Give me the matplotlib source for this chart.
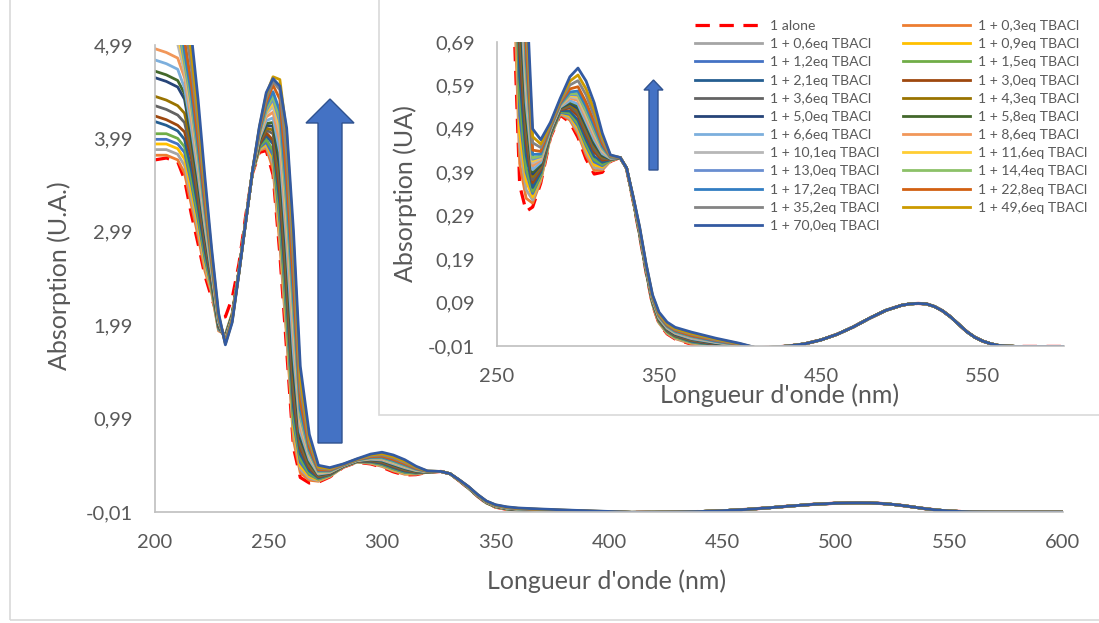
import matplotlib
matplotlib.use("Agg")
import matplotlib.pyplot as plt
from matplotlib.patches import Rectangle, Polygon

plt.rcParams['font.family'] = ['Lato', 'DejaVu Sans']

# ---- data ----------------------------------------------------------------
# wavelengths (nm) where the spectra differ from one another
wl_head = [200, 205, 210, 213, 216, 219, 222, 225, 228, 231,
           234, 237, 240, 243, 246, 249, 252, 255, 258, 261,
           264, 268, 272, 277, 283, 289, 295, 300, 305, 310,
           315, 320, 326, 330, 334, 338, 342, 346, 350, 355,
           360, 370, 385, 400]
# long-wavelength part, common to all spectra
wl_tail = [410, 420, 430, 440, 450, 460, 470, 480, 490, 500, 505, 510,
           515, 520, 525, 530, 535, 540, 545, 550, 555, 560, 570, 580, 590, 600]
abs_tail = [-0.014, -0.013, -0.010, -0.005, 0.004, 0.017, 0.034, 0.054,
            0.072, 0.084, 0.087, 0.088, 0.087, 0.081, 0.071, 0.057, 0.040,
            0.023, 0.010, 0.001, -0.005, -0.009, -0.011, -0.011, -0.011, -0.011]

a_alone = [3.76, 3.78, 3.74, 3.55, 3.18, 2.86, 2.52, 2.28, 2.06, 2.08,
           2.28, 2.65, 3.17, 3.62, 3.84, 3.86, 3.60, 2.75, 1.72, 0.68,
           0.36, 0.30, 0.31, 0.365, 0.47, 0.522, 0.505, 0.47, 0.42, 0.386,
           0.39, 0.415, 0.424, 0.398, 0.325, 0.245, 0.160, 0.085, 0.042, 0.018,
           0.006, -0.006, -0.012, -0.014]
a_0_3 = [3.81, 3.81, 3.76, 3.62, 3.28, 2.94, 2.57, 2.33, 1.93, 1.89,
         2.12, 2.58, 3.12, 3.63, 3.86, 3.89, 3.66, 2.85, 1.86, 0.76,
         0.41, 0.33, 0.319, 0.370, 0.472, 0.524, 0.510, 0.478, 0.429, 0.394,
         0.395, 0.416, 0.424, 0.399, 0.326, 0.246, 0.161, 0.086, 0.043, 0.019,
         0.007, -0.005, -0.011, -0.014]
a_0_6 = [3.87, 3.87, 3.82, 3.70, 3.35, 3.00, 2.62, 2.35, 1.94, 1.89,
         2.11, 2.58, 3.12, 3.63, 3.87, 3.91, 3.72, 2.93, 1.91, 0.83,
         0.45, 0.35, 0.326, 0.374, 0.473, 0.525, 0.514, 0.484, 0.436, 0.401,
         0.398, 0.416, 0.424, 0.399, 0.326, 0.247, 0.162, 0.087, 0.044, 0.020,
         0.008, -0.003, -0.010, -0.013]
a_0_9 = [3.93, 3.93, 3.88, 3.77, 3.43, 3.06, 2.66, 2.37, 1.95, 1.88,
         2.11, 2.58, 3.12, 3.63, 3.88, 3.93, 3.77, 3.01, 1.99, 0.88,
         0.48, 0.37, 0.333, 0.378, 0.475, 0.527, 0.519, 0.491, 0.443, 0.407,
         0.402, 0.417, 0.424, 0.399, 0.326, 0.248, 0.163, 0.088, 0.045, 0.022,
         0.010, -0.002, -0.009, -0.013]
a_1_2 = [3.98, 3.98, 3.93, 3.84, 3.51, 3.12, 2.70, 2.39, 1.95, 1.88,
         2.10, 2.57, 3.12, 3.64, 3.89, 3.95, 3.81, 3.09, 2.07, 0.95,
         0.52, 0.39, 0.341, 0.382, 0.476, 0.528, 0.523, 0.497, 0.451, 0.414,
         0.405, 0.418, 0.424, 0.399, 0.327, 0.248, 0.163, 0.089, 0.046, 0.023,
         0.011, -0.001, -0.009, -0.012]
a_1_5 = [4.04, 4.04, 3.99, 3.90, 3.56, 3.17, 2.74, 2.40, 1.96, 1.88,
         2.10, 2.57, 3.12, 3.64, 3.90, 3.98, 3.86, 3.17, 2.15, 1.01,
         0.56, 0.40, 0.346, 0.385, 0.477, 0.530, 0.526, 0.502, 0.456, 0.419,
         0.408, 0.418, 0.424, 0.399, 0.327, 0.249, 0.164, 0.090, 0.047, 0.023,
         0.011, 0.000, -0.008, -0.012]
a_2_1 = [4.17, 4.13, 4.07, 3.98, 3.66, 3.25, 2.79, 2.43, 1.97, 1.87,
         2.10, 2.57, 3.12, 3.64, 3.92, 4.02, 3.93, 3.29, 2.28, 1.11,
         0.61, 0.43, 0.355, 0.390, 0.479, 0.532, 0.531, 0.510, 0.465, 0.427,
         0.413, 0.419, 0.424, 0.399, 0.328, 0.250, 0.165, 0.091, 0.049, 0.025,
         0.013, 0.001, -0.007, -0.012]
a_3_0 = [4.23, 4.19, 4.13, 4.06, 3.78, 3.34, 2.86, 2.46, 1.98, 1.86,
         2.09, 2.57, 3.11, 3.64, 3.93, 4.05, 3.97, 3.41, 2.40, 1.21,
         0.67, 0.46, 0.366, 0.396, 0.481, 0.534, 0.538, 0.520, 0.476, 0.437,
         0.418, 0.420, 0.424, 0.399, 0.328, 0.251, 0.166, 0.092, 0.050, 0.026,
         0.014, 0.003, -0.006, -0.011]
a_3_6 = [4.34, 4.30, 4.24, 4.16, 3.85, 3.40, 2.90, 2.48, 1.99, 1.86,
         2.09, 2.57, 3.11, 3.64, 3.95, 4.08, 4.04, 3.52, 2.51, 1.30,
         0.71, 0.48, 0.373, 0.400, 0.482, 0.535, 0.542, 0.526, 0.483, 0.443,
         0.422, 0.420, 0.424, 0.399, 0.329, 0.252, 0.167, 0.093, 0.051, 0.027,
         0.015, 0.004, -0.005, -0.011]
a_4_3 = [4.44, 4.40, 4.34, 4.26, 3.93, 3.46, 2.94, 2.50, 2.00, 1.85,
         2.08, 2.57, 3.11, 3.64, 3.96, 4.10, 4.08, 3.61, 2.61, 1.41,
         0.75, 0.50, 0.380, 0.404, 0.484, 0.537, 0.546, 0.532, 0.490, 0.450,
         0.425, 0.421, 0.424, 0.399, 0.329, 0.253, 0.168, 0.094, 0.052, 0.029,
         0.017, 0.005, -0.004, -0.010]
a_5_0 = [4.64, 4.60, 4.54, 4.41, 3.99, 3.51, 2.97, 2.51, 2.00, 1.85,
         2.08, 2.57, 3.11, 3.64, 3.97, 4.13, 4.12, 3.68, 2.70, 1.50,
         0.78, 0.52, 0.386, 0.407, 0.485, 0.538, 0.549, 0.537, 0.496, 0.455,
         0.428, 0.421, 0.424, 0.399, 0.329, 0.253, 0.168, 0.095, 0.053, 0.029,
         0.017, 0.006, -0.004, -0.010]
a_5_8 = [4.71, 4.67, 4.61, 4.47, 4.04, 3.55, 3.01, 2.53, 2.01, 1.85,
         2.08, 2.57, 3.11, 3.64, 3.98, 4.15, 4.16, 3.76, 2.78, 1.60,
         0.82, 0.53, 0.391, 0.410, 0.486, 0.539, 0.552, 0.542, 0.501, 0.460,
         0.430, 0.422, 0.424, 0.399, 0.330, 0.254, 0.169, 0.095, 0.054, 0.030,
         0.018, 0.007, -0.003, -0.010]
a_6_6 = [4.83, 4.79, 4.73, 4.53, 4.10, 3.60, 3.04, 2.54, 2.02, 1.84,
         2.07, 2.57, 3.11, 3.64, 3.99, 4.18, 4.21, 3.84, 2.86, 1.69,
         0.85, 0.55, 0.396, 0.413, 0.487, 0.540, 0.555, 0.547, 0.506, 0.465,
         0.433, 0.422, 0.424, 0.399, 0.330, 0.255, 0.170, 0.096, 0.054, 0.031,
         0.019, 0.007, -0.002, -0.009]
a_8_6 = [4.95, 4.91, 4.85, 4.64, 4.20, 3.68, 3.09, 2.57, 2.03, 1.84,
         2.07, 2.56, 3.11, 3.65, 4.01, 4.22, 4.27, 3.96, 3.01, 1.86,
         0.90, 0.58, 0.405, 0.418, 0.489, 0.542, 0.561, 0.555, 0.515, 0.473,
         0.438, 0.423, 0.424, 0.399, 0.330, 0.256, 0.171, 0.097, 0.056, 0.032,
         0.020, 0.009, -0.001, -0.009]
a_10_1 = [5.10, 5.06, 5.00, 4.70, 4.26, 3.72, 3.12, 2.58, 2.03, 1.83,
          2.06, 2.56, 3.11, 3.65, 4.02, 4.25, 4.33, 4.05, 3.11, 1.97,
          0.94, 0.59, 0.411, 0.421, 0.490, 0.543, 0.564, 0.560, 0.521, 0.478,
          0.440, 0.423, 0.424, 0.399, 0.331, 0.256, 0.171, 0.098, 0.057, 0.033,
          0.021, 0.010, -0.001, -0.008]
a_11_6 = [5.20, 5.16, 5.10, 4.76, 4.31, 3.77, 3.16, 2.60, 2.04, 1.83,
          2.06, 2.56, 3.11, 3.65, 4.03, 4.27, 4.37, 4.11, 3.19, 2.07,
          0.98, 0.61, 0.416, 0.424, 0.491, 0.544, 0.567, 0.564, 0.526, 0.483,
          0.443, 0.424, 0.424, 0.399, 0.331, 0.257, 0.172, 0.099, 0.057, 0.034,
          0.022, 0.011, 0.000, -0.008]
a_13_0 = [5.30, 5.26, 5.20, 4.80, 4.35, 3.80, 3.18, 2.61, 2.04, 1.83,
          2.06, 2.56, 3.11, 3.65, 4.04, 4.29, 4.41, 4.16, 3.26, 2.13,
          1.01, 0.62, 0.420, 0.426, 0.491, 0.545, 0.569, 0.568, 0.530, 0.486,
          0.445, 0.424, 0.424, 0.399, 0.331, 0.257, 0.172, 0.099, 0.058, 0.034,
          0.022, 0.011, 0.000, -0.008]
a_14_4 = [5.40, 5.36, 5.30, 4.84, 4.39, 3.83, 3.20, 2.62, 2.05, 1.82,
          2.06, 2.56, 3.11, 3.65, 4.05, 4.31, 4.44, 4.21, 3.31, 2.16,
          1.04, 0.63, 0.423, 0.428, 0.492, 0.546, 0.571, 0.571, 0.533, 0.489,
          0.447, 0.424, 0.424, 0.399, 0.331, 0.258, 0.173, 0.099, 0.058, 0.035,
          0.023, 0.012, 0.001, -0.008]
a_17_2 = [5.60, 5.56, 5.50, 4.92, 4.47, 3.89, 3.24, 2.64, 2.05, 1.82,
          2.05, 2.56, 3.11, 3.65, 4.06, 4.34, 4.49, 4.28, 3.42, 2.26,
          1.09, 0.65, 0.431, 0.432, 0.493, 0.547, 0.575, 0.577, 0.541, 0.496,
          0.450, 0.425, 0.424, 0.399, 0.332, 0.258, 0.173, 0.100, 0.059, 0.036,
          0.024, 0.013, 0.001, -0.007]
a_22_8 = [5.90, 5.86, 5.80, 5.05, 4.58, 3.98, 3.31, 2.67, 2.07, 1.81,
          2.05, 2.56, 3.11, 3.65, 4.08, 4.38, 4.56, 4.41, 3.58, 2.42,
          1.18, 0.68, 0.441, 0.438, 0.496, 0.550, 0.582, 0.587, 0.551, 0.506,
          0.456, 0.426, 0.424, 0.399, 0.332, 0.260, 0.175, 0.102, 0.061, 0.038,
          0.026, 0.014, 0.003, -0.007]
a_35_2 = [6.30, 6.26, 6.20, 5.23, 4.75, 4.12, 3.41, 2.71, 2.08, 1.80,
          2.04, 2.56, 3.10, 3.65, 4.10, 4.42, 4.60, 4.51, 3.81, 2.66,
          1.31, 0.73, 0.458, 0.447, 0.499, 0.553, 0.591, 0.601, 0.568, 0.520,
          0.464, 0.427, 0.424, 0.399, 0.333, 0.261, 0.176, 0.104, 0.063, 0.040,
          0.028, 0.017, 0.004, -0.006]
a_49_6 = [6.60, 6.56, 6.50, 5.40, 4.91, 4.25, 3.49, 2.75, 2.10, 1.79,
          2.03, 2.55, 3.10, 3.65, 4.11, 4.46, 4.65, 4.62, 4.04, 2.88,
          1.42, 0.77, 0.472, 0.455, 0.502, 0.556, 0.600, 0.614, 0.582, 0.534,
          0.471, 0.429, 0.424, 0.400, 0.334, 0.263, 0.178, 0.106, 0.065, 0.042,
          0.030, 0.019, 0.006, -0.005]
a_70_0 = [7.00, 6.96, 6.90, 5.60, 5.10, 4.40, 3.57, 2.80, 2.12, 1.78,
          2.02, 2.55, 3.10, 3.65, 4.12, 4.48, 4.63, 4.55, 4.10, 3.00,
          1.55, 0.82, 0.49, 0.465, 0.505, 0.56, 0.61, 0.63, 0.60, 0.55,
          0.48, 0.43, 0.424, 0.400, 0.335, 0.265, 0.180, 0.108, 0.068, 0.045,
          0.033, 0.022, 0.008, -0.004]

spectra = [a_alone, a_0_3, a_0_6, a_0_9, a_1_2, a_1_5, a_2_1, a_3_0, a_3_6,
           a_4_3, a_5_0, a_5_8, a_6_6, a_8_6, a_10_1, a_11_6, a_13_0, a_14_4,
           a_17_2, a_22_8, a_35_2, a_49_6, a_70_0]
labels = ['1 alone', '1 + 0,3eq TBACl', '1 + 0,6eq TBACl', '1 + 0,9eq TBACl',
          '1 + 1,2eq TBACl', '1 + 1,5eq TBACl', '1 + 2,1eq TBACl',
          '1 + 3,0eq TBACl', '1 + 3,6eq TBACl', '1 + 4,3eq TBACl',
          '1 + 5,0eq TBACl', '1 + 5,8eq TBACl', '1 + 6,6eq TBACl',
          '1 + 8,6eq TBACl', '1 + 10,1eq TBACl', '1 + 11,6eq TBACl',
          '1 + 13,0eq TBACl', '1 + 14,4eq TBACl', '1 + 17,2eq TBACl',
          '1 + 22,8eq TBACl', '1 + 35,2eq TBACl', '1 + 49,6eq TBACl',
          '1 + 70,0eq TBACl']
colors = ['#FF0000', '#ED7D31', '#A5A5A5', '#FFC000', '#4472C4', '#70AD47',
          '#255E91', '#9E480E', '#636363', '#997300', '#264478', '#43682B',
          '#7CAFDD', '#F1975A', '#B7B7B7', '#FFCD33', '#698ED0', '#8CC168',
          '#327DC2', '#D26012', '#848484', '#CC9A00', '#335AA1']

main_xticks = [200, 250, 300, 350, 400, 450, 500, 550, 600]
main_yticks = [-0.01, 0.99, 1.99, 2.99, 3.99, 4.99]
main_ylabels = ['-0,01', '0,99', '1,99', '2,99', '3,99', '4,99']
inset_xticks = [250, 350, 450, 550]
inset_yticks = [-0.01, 0.09, 0.19, 0.29, 0.39, 0.49, 0.59, 0.69]
inset_ylabels = ['-0,01', '0,09', '0,19', '0,29', '0,39', '0,49', '0,59', '0,69']

# ---- drawing --------------------------------------------------------------
W, H = 1099, 623
TXT = '#595959'
AXC = '#BFBFBF'


def fx(px):
    return px / W


def fy(py):
    return 1 - py / H


def draw_spectra(ax):
    lines = []
    for lab, vals, col in zip(labels, spectra, colors):
        if lab == '1 alone':
            ln, = ax.plot(wl_head + wl_tail, vals + abs_tail, color=col,
                          lw=2.3, dashes=(4.5, 3.0))
        else:
            ln, = ax.plot(wl_head + wl_tail, vals + abs_tail, color=col,
                          lw=2.0, solid_joinstyle='round')
        lines.append(ln)
    return lines


def style_axes(ax, fs):
    for side in ['top', 'right']:
        ax.spines[side].set_visible(False)
    for side in ['left', 'bottom']:
        ax.spines[side].set_color(AXC)
        ax.spines[side].set_linewidth(1.2)
    ax.tick_params(length=0, pad=16, labelsize=fs, colors=TXT)
    ax.set_facecolor('none')


fig = plt.figure(figsize=(W / 100, H / 100), dpi=100)

# outer chart border
fig.add_artist(Rectangle((fx(10), fy(620)), 1.2, 1.2, transform=fig.transFigure,
                         facecolor='none', edgecolor='#D9D9D9', lw=1.2, zorder=-1))

ax = fig.add_axes([fx(155), fy(512), (1063 - 155) / W, (512 - 45) / H])
main_lines = draw_spectra(ax)
ax.set_xlim(200, 600)
ax.set_ylim(-0.01, 4.99)
ax.set_xticks(main_xticks)
ax.set_xticklabels([str(t) for t in main_xticks])
ax.set_yticks(main_yticks)
ax.set_yticklabels(main_ylabels)
style_axes(ax, 14.5)
ax.set_zorder(0)

fig.text(fx(607), fy(581), "Longueur d'onde (nm)", ha='center', va='center',
         fontsize=18, color=TXT)
fig.text(fx(59), fy(276), 'Absorption (U.A.)', ha='center', va='center',
         rotation=90, fontsize=18, color=TXT)

# big arrow in main chart
big_arrow = [(318, 443), (342, 443), (342, 123), (354, 123), (330, 99),
             (306, 123), (318, 123)]
fig.add_artist(Polygon([(fx(x), fy(y)) for x, y in big_arrow], closed=True,
                       transform=fig.transFigure, facecolor='#4472C4',
                       edgecolor='#2F528F', lw=1.0, zorder=1))

# inset chart area
fig.add_artist(Rectangle((fx(379), fy(415)), 1.0, 1.0, transform=fig.transFigure,
                         facecolor='white', edgecolor='#D9D9D9', lw=1.2, zorder=2))

axi = fig.add_axes([fx(497), fy(346), (1064 - 497) / W, (346 - 42) / H])
axi.set_zorder(3)
draw_spectra(axi)
axi.set_xlim(250, 600)
axi.set_ylim(-0.01, 0.69)
axi.set_xticks(inset_xticks)
axi.set_xticklabels([str(t) for t in inset_xticks])
axi.set_yticks(inset_yticks)
axi.set_yticklabels(inset_ylabels)
style_axes(axi, 14.5)

fig.text(fx(780), fy(395), "Longueur d'onde (nm)", ha='center', va='center',
         fontsize=18, color=TXT, zorder=4)
fig.text(fx(405), fy(194), 'Absorption (UA)', ha='center', va='center',
         rotation=90, fontsize=18, color=TXT, zorder=4)

small_arrow = [(649, 170), (658, 170), (658, 90), (663, 90), (653.5, 80),
               (644, 90), (649, 90)]
fig.add_artist(Polygon([(fx(x), fy(y)) for x, y in small_arrow], closed=True,
                       transform=fig.transFigure, facecolor='#4472C4',
                       edgecolor='#2F528F', lw=1.0, zorder=4))

# legend, filled row by row like the original
order = list(range(0, len(labels), 2)) + list(range(1, len(labels), 2))
leg = fig.legend([main_lines[i] for i in order], [labels[i] for i in order],
                 loc='upper left', bbox_to_anchor=(fx(695), fy(20)), ncol=2,
                 frameon=False, borderpad=0, fontsize=10.1, labelcolor=TXT,
                 handlelength=4.8, handletextpad=0.55, columnspacing=1.7,
                 labelspacing=0.44, borderaxespad=0)
leg.set_zorder(5)

fig.savefig('out.png', dpi=100)
